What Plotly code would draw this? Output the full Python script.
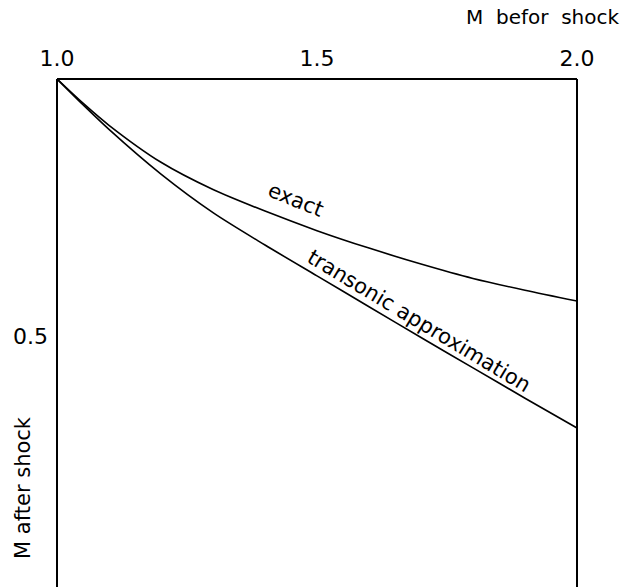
import plotly.graph_objects as go

# Mach number before shock (x) and after shock (y)
m_before = [1.0, 1.05, 1.1, 1.2, 1.3, 1.4, 1.5, 1.6, 1.7, 1.8, 1.9, 2.0]
m_after_exact = [1.0, 0.953, 0.910, 0.838, 0.785, 0.743, 0.705, 0.671, 0.640, 0.612, 0.589, 0.568]
m_after_transonic = [1.0, 0.950, 0.902, 0.815, 0.740, 0.677, 0.617, 0.557, 0.497, 0.438, 0.379, 0.321]

x_tick_vals = [1.0, 1.5, 2.0]
x_tick_text = ["1.0", "1.5", "2.0"]
y_tick_vals = [0.5]
y_tick_text = ["0.5"]

FONT = "DejaVu Sans"

fig = go.Figure()
fig.add_trace(go.Scatter(x=m_before, y=m_after_exact, mode="lines",
                         line=dict(color="black", width=1.6, shape="spline", smoothing=0.8),
                         name="exact", showlegend=False))
fig.add_trace(go.Scatter(x=m_before, y=m_after_transonic, mode="lines",
                         line=dict(color="black", width=1.6, shape="spline", smoothing=0.8),
                         name="transonic approximation", showlegend=False))

# labels along curves
fig.add_annotation(x=1.46, y=0.765, text="exact", showarrow=False, textangle=22,
                   font=dict(family=FONT, size=21, color="black"))
fig.add_annotation(x=1.696, y=0.529, text="transonic approximation", showarrow=False,
                   textangle=31, font=dict(family=FONT, size=21, color="black"))

# axis titles
fig.add_annotation(xref="paper", yref="paper", x=(622 - 57) / 520, y=1.0, yshift=62,
                   xanchor="right", yanchor="middle", text="M  befor  shock",
                   showarrow=False, font=dict(family=FONT, size=20, color="black"))
fig.add_annotation(xref="paper", yref="paper", x=0, xshift=-34, y=0.195,
                   xanchor="center", yanchor="middle", text="M after shock",
                   textangle=-90, showarrow=False,
                   font=dict(family=FONT, size=21, color="black"))

# frame: left, top, right
for x0, y0, x1, y1 in [(0, 0, 0, 1), (0, 1, 1, 1), (1, 0, 1, 1)]:
    fig.add_shape(type="line", xref="paper", yref="paper", x0=x0, y0=y0, x1=x1, y1=y1,
                  line=dict(color="black", width=2))

fig.update_xaxes(range=[1.0, 2.0], side="top", tickvals=x_tick_vals, ticktext=x_tick_text,
                 showgrid=False, zeroline=False, showline=False, ticks="",
                 ticklabelstandoff=8, automargin=False,
                 tickfont=dict(family=FONT, size=22, color="black"))
fig.update_yaxes(range=[1 - 508 / 514, 1.0], tickvals=y_tick_vals, ticktext=y_tick_text,
                 showgrid=False, zeroline=False, showline=False, ticks="",
                 ticklabelstandoff=8, automargin=False,
                 tickfont=dict(family=FONT, size=22, color="black"))

fig.update_layout(width=623, height=587, margin=dict(l=57, r=46, t=79, b=0),
                  plot_bgcolor="white", paper_bgcolor="white", showlegend=False)

fig.write_html("out.html", config={"displayModeBar": False},
               post_script="document.body.style.margin='0';document.body.style.padding='0';")
